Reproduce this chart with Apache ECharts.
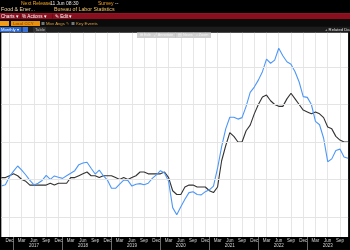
<!DOCTYPE html>
<html><head><meta charset="utf-8">
<script src="https://cdn.jsdelivr.net/npm/echarts@6/dist/echarts.min.js"></script>
<style>html,body{margin:0;padding:0;background:#000;overflow:hidden}#c{width:350px;height:250px}</style>
</head><body><div id="c"></div><script>
const categories = [
'2016-10','2016-11','2016-12',
'2017-01','2017-02','2017-03','2017-04','2017-05','2017-06','2017-07','2017-08','2017-09','2017-10','2017-11','2017-12',
'2018-01','2018-02','2018-03','2018-04','2018-05','2018-06','2018-07','2018-08','2018-09','2018-10','2018-11','2018-12',
'2019-01','2019-02','2019-03','2019-04','2019-05','2019-06','2019-07','2019-08','2019-09','2019-10','2019-11','2019-12',
'2020-01','2020-02','2020-03','2020-04','2020-05','2020-06','2020-07','2020-08','2020-09','2020-10','2020-11','2020-12',
'2021-01','2021-02','2021-03','2021-04','2021-05','2021-06','2021-07','2021-08','2021-09','2021-10','2021-11','2021-12',
'2022-01','2022-02','2022-03','2022-04','2022-05','2022-06','2022-07','2022-08','2022-09','2022-10','2022-11','2022-12',
'2023-01','2023-02','2023-03','2023-04','2023-05','2023-06','2023-07','2023-08','2023-09','2023-10','2023-11'];

const blackSeries = [
2.1,2.1,2.2,
2.3,2.2,2.0,1.9,1.7,1.7,1.7,1.7,1.7,1.8,1.7,1.8,
1.8,1.8,2.1,2.1,2.2,2.3,2.4,2.2,2.2,2.1,2.2,2.2,
2.2,2.1,2.0,2.1,2.0,2.1,2.2,2.4,2.4,2.3,2.3,2.3,
2.3,2.4,2.1,1.4,1.2,1.2,1.6,1.7,1.7,1.6,1.6,1.6,
1.4,1.3,1.6,3.0,3.8,4.5,4.3,4.0,4.0,4.6,4.9,5.5,
6.0,6.4,6.5,6.2,6.0,5.9,5.9,6.3,6.6,6.3,6.0,5.7,
5.6,5.5,5.6,5.5,5.3,4.8,4.7,4.3,4.1,4.0,4.0];

const blueSeries = [
1.65,1.72,2.15,
2.45,2.72,2.5,2.24,1.95,1.71,1.8,1.95,2.22,2.01,2.19,2.12,
2.06,2.2,2.33,2.47,2.79,2.88,2.92,2.6,2.29,2.5,2.2,1.97,
1.53,1.53,1.75,1.97,1.95,1.65,1.75,1.78,1.72,1.8,2.06,2.25,
2.47,2.35,1.9,0.5,0.12,0.55,0.95,1.3,1.35,1.2,1.18,1.35,
1.45,1.65,2.6,3.75,4.7,5.32,5.32,5.22,5.3,5.9,6.65,6.93,
7.3,7.75,8.42,8.2,8.37,9.0,8.6,8.28,8.15,7.75,7.2,6.42,
6.38,6.0,5.1,4.92,4.2,2.95,3.1,3.55,3.62,3.2,3.13];

const gridValues = [0,2,4,6,8];
const monthNames = {'01':'Jan','02':'Feb','03':'Mar','04':'Apr','05':'May','06':'Jun','07':'Jul','08':'Aug','09':'Sep','10':'Oct','11':'Nov','12':'Dec'};
const labelMonths = ['12','03','06','09'];

const chart = echarts.init(document.getElementById('c'), null, {renderer:'canvas'});
const FF = 'Liberation Sans';
function t(text, x, y, fill, size, extra){
  return Object.assign({type:'text', z:10, silent:true, style:{text:text, x:x, y:y, fill:fill, fontSize:size||5, fontFamily:FF, verticalAlign:'middle'}}, extra||{});
}
function r(x,y,w,h,fill){ return {type:'rect', z:5, silent:true, shape:{x:x,y:y,width:w,height:h}, style:{fill:fill}}; }

const graphics = [
  t('Next Release', 21, 3.6, '#f5a623', 5),
  t('11 Jun 08:30', 50, 3.6, '#e6e6e6', 5),
  t('Survey', 98, 3.6, '#f5a623', 5),
  t('--', 115, 3.6, '#e6e6e6', 5),
  t('Food & Ener...', 1, 9.8, '#f7dca8', 5.3),
  t('Bureau of Labor Statistics', 54, 9.8, '#f5c46a', 5.3),
  r(0, 13.3, 350, 6, '#8a0f1e'),
  r(0, 13.3, 350, 0.6, '#a3182a'),
  t('Charts \u25BE', 1, 16.4, '#ffffff', 4.6),
  t('% Actions \u25BE', 22, 16.4, '#ffffff', 4.6),
  t('\u270E Edit \u25BE', 55, 16.4, '#ffffff', 4.6),
  r(20, 13.8, 0.6, 5, '#5a0812'),
  r(52, 13.8, 0.6, 5, '#5a0812'),
  r(0, 19.5, 350, 7, '#0b0b0b'),
  r(0, 21, 9, 5, '#f39c1a'),
  r(11, 21, 29, 5, '#e8900e'),
  t('Local CCY', 13, 23.5, '#6a3a00', 4.3),
  r(41.5, 22, 3, 3, '#777777'),
  t('Mov Avgs \u270E', 46, 23.5, '#e0a040', 4.3),
  r(71.5, 22, 3, 3, '#777777'),
  t('Key Events', 76, 23.5, '#e0a040', 4.3),
  r(0, 26.5, 350, 6, '#1c1c1c'),
  r(0, 27, 21.5, 5, '#2a66cc'),
  t('Monthly \u25BE', 1, 29.5, '#ffffff', 4.2),
  r(22.5, 27, 5.5, 5, '#3b72d8'),
  r(33, 27, 13, 5, '#2e2e2e'),
  t('Table', 35, 29.5, '#bbbbbb', 4.2),
  t('+ Related Da', 325, 29.5, '#e0e0e0', 4.2),
  r(137, 32.5, 74, 5.5, '#cfcfcf'),
  t('\u229E Edit   \u2922 Annotate', 140, 35.3, '#f4f4f4', 3.8),
  r(175, 32.5, 0.6, 5.5, '#bcbcbc'),
  t('\u25A4 News   \u2315 Zoom', 178, 35.3, '#f4f4f4', 3.8)
];

const option = {
  animation: false,
  backgroundColor: '#000000',
  grid: {left: 1.34, right: 1.9, top: 32.5, bottom: 13, show: true, backgroundColor: '#ffffff', borderWidth: 0},
  xAxis: {
    type: 'category', data: categories, boundaryGap: false,
    axisLine: {show: false, onZero: false},
    axisTick: {show: true, length: 13, interval: (i, v) => v.slice(5) === '01', lineStyle: {color: '#6a6a6a', width: 1}},
    axisLabel: {
      interval: (i, v) => labelMonths.indexOf(v.slice(5)) >= 0,
      formatter: v => { const m = v.slice(5); return monthNames[m] + (m === '06' ? '\n' + v.slice(0,4) : ''); },
      fontSize: 4.5, lineHeight: 4.8, color: '#d6d6d6', margin: 1.2, fontFamily: FF
    },
    splitLine: {show: true, interval: (i, v) => labelMonths.indexOf(v.slice(5)) >= 0, lineStyle: {color: '#e6e6e6', width: 1}}
  },
  yAxis: {type: 'value', min: -1.067, max: 9.84, show: false, splitLine: {show: false}},
  graphic: graphics,
  series: [
    {type: 'line', data: [], z: 1, silent: true,
     markLine: {silent: true, symbol: 'none', label: {show: false}, animation: false,
       lineStyle: {color: '#e4e4e4', type: 'solid', width: 1},
       data: gridValues.map(v => ({yAxis: v}))}},
    {type: 'line', data: blackSeries, z: 2, symbol: 'none', smooth: false,
     lineStyle: {color: '#333333', width: 1.1}},
    {type: 'line', data: blueSeries, z: 3, symbol: 'none', smooth: false,
     lineStyle: {color: '#4d97f8', width: 1.1}}
  ]
};
chart.setOption(option);
</script></body></html>
